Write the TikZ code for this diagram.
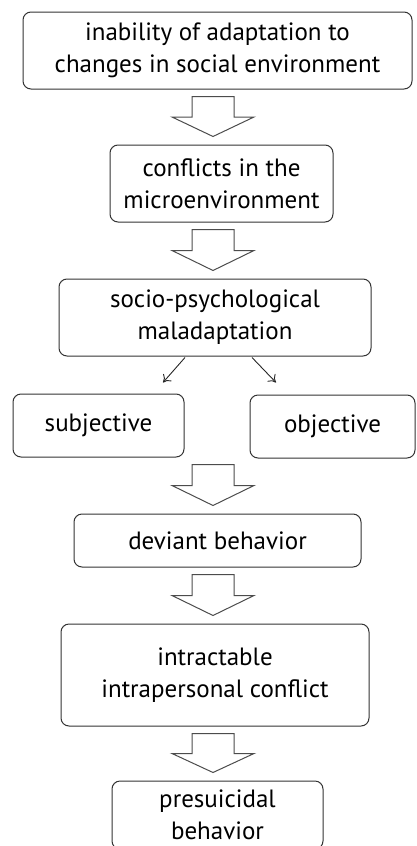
\documentclass[tikz,border=0pt]{standalone}
\usepackage{fontspec}
\setmainfont{PT Sans}
\usetikzlibrary{calc,arrows.meta}

\tikzset{
  box/.style={draw=black!80,line width=1pt,rounded corners=8pt,align=center,inner sep=0pt,
    font=\fontsize{25}{32}\selectfont},
  fatarrow/.style={draw=black!70,line width=1pt,fill=white},
  thinarrow/.style={draw=black!85,line width=0.9pt,-{To[length=7pt,width=11pt]}}
}

% block arrow between two boxes
\newcommand{\fatarrow}[2]{%
  \draw[fatarrow] let \p1=(#1.south), \p2=(#2.north), \n1={0.5*(\y1+\y2)} in
    (192pt,\y1-7pt) -- (234pt,\y1-7pt) -- (234pt,\n1) -- (254pt,\n1) -- (213pt,\y2+8pt)
    -- (172pt,\n1) -- (192pt,\n1) -- cycle;}

\begin{document}
\begin{tikzpicture}[x=1pt,y=1pt]

  \useasboundingbox (0,0) rectangle (416,-846);

  % boxes
  \node[box,minimum width=389,minimum height=77] (adapt) at (217.5,-50.5)
    {inability of adaptation to\\changes in social environment};
  \node[box,minimum width=223,minimum height=77] (micro) at (221.5,-183.5)
    {conflicts in the\\microenvironment};
  \node[box,minimum width=312,minimum height=77] (malad) at (215,-317.5)
    {socio-psychological\\maladaptation};
  \node[box,minimum width=171,minimum height=63] (subj) at (98.5,-425.5) {subjective};
  \node[box,minimum width=165,minimum height=63] (obj) at (332.5,-426.5) {objective};
  \node[box,minimum width=287,minimum height=53] (deviant) at (217.5,-540.5) {deviant behavior};
  \node[box,minimum width=308,minimum height=102] (intra) at (215,-675)
    {intractable\\intrapersonal conflict};
  \node[box,minimum width=211,minimum height=68] (presui) at (217.5,-815)
    {presuicidal\\behavior};

  % arrows
  \fatarrow{adapt}{micro}
  \fatarrow{micro}{malad}
  \draw[thinarrow] ($(malad.south)+(-30,-1)$) -- ($(subj.north)+(64.5,11)$);
  \draw[thinarrow] ($(malad.south)+(37,-1)$) -- ($(obj.north)+(-56.5,12)$);
  \fatarrow{subj}{deviant}
  \fatarrow{deviant}{intra}
  \fatarrow{intra}{presui}

\end{tikzpicture}
\end{document}
